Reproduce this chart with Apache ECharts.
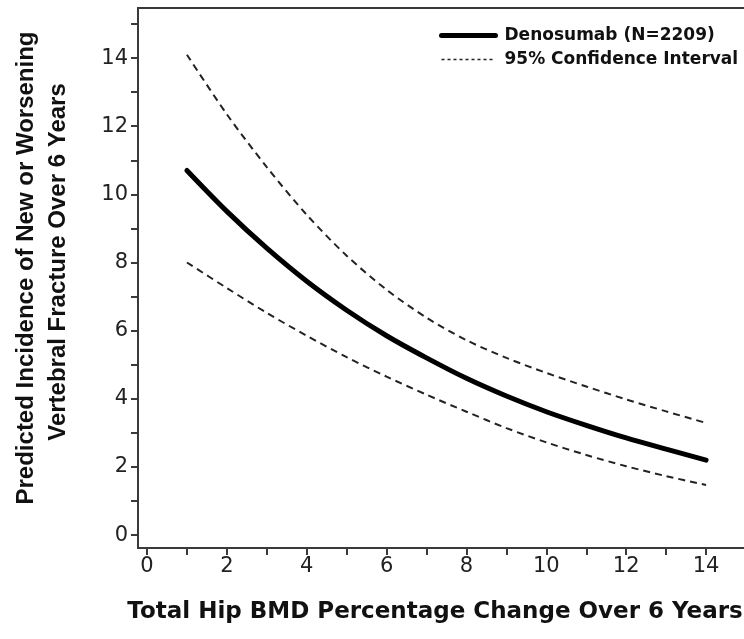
<!DOCTYPE html>
<html>
<head>
<meta charset="utf-8">
<script src="https://cdn.jsdelivr.net/npm/echarts@6/dist/echarts.min.js"></script>
<style>
  html, body { margin: 0; padding: 0; background: #fff; }
  #chart { width: 744px; height: 639px; }
</style>
</head>
<body>
<div id="chart"></div>
<script>
// hip BMD change (%) at which the model was evaluated
var bmdChange = [1, 2, 3, 4, 5, 6, 7, 8, 9, 10, 11, 12, 13, 14];
// predicted incidence (%) and its 95% CI
var incidence = [10.7, 9.5, 8.42, 7.45, 6.6, 5.85, 5.2, 4.6, 4.08, 3.62, 3.22, 2.85, 2.52, 2.2];
var upperCI = [14.1, 12.35, 10.8, 9.4, 8.2, 7.2, 6.38, 5.72, 5.2, 4.76, 4.36, 3.98, 3.63, 3.29];
var lowerCI = [8.0, 7.25, 6.52, 5.85, 5.22, 4.65, 4.12, 3.62, 3.14, 2.72, 2.35, 2.02, 1.73, 1.47];

var xLabels = [0, 2, 4, 6, 8, 10, 12, 14];
var xTicks = [0, 1, 2, 3, 4, 5, 6, 7, 8, 9, 10, 11, 12, 13, 14, 15];
var yLabels = [0, 2, 4, 6, 8, 10, 12, 14];
var yTicks = [0, 1, 2, 3, 4, 5, 6, 7, 8, 9, 10, 11, 12, 13, 14, 15];

var mainName = 'Denosumab (N=2209)';
var ciName = '95% Confidence Interval';

function pairs(ys) {
    return bmdChange.map(function (x, i) { return [x, ys[i]]; });
}

var axisColor = '#3a3a3a';
var tickFont = { fontFamily: 'DejaVu Sans', fontSize: 21, color: '#222' };
var titleFont = 'bold 24px "Liberation Sans", Arial, sans-serif';

var chart = echarts.init(document.getElementById('chart'));
chart.setOption({
    animation: false,
    backgroundColor: '#fff',
    grid: {
        left: 138, top: 8, right: -10, bottom: 91,
        outerBoundsMode: 'none',
        containLabel: false,
        show: true, borderColor: axisColor, borderWidth: 2
    },
    legend: {
        orient: 'vertical',
        left: 434, top: 22,
        itemWidth: 54, itemHeight: 16, itemGap: 7,
        itemStyle: { opacity: 0 },
        data: [
            { name: mainName, lineStyle: { width: 5, color: '#000' } },
            { name: ciName, lineStyle: { width: 1.5, color: '#222', type: [3, 3] } }
        ],
        textStyle: { fontFamily: 'DejaVu Sans', fontWeight: 'bold', fontSize: 17, color: '#111', padding: [0, 0, 0, 4] }
    },
    xAxis: {
        type: 'value',
        min: -0.225, max: 15.2,
        splitLine: { show: false },
        axisLine: { onZero: false, lineStyle: { color: axisColor, width: 2 } },
        axisTick: { customValues: xTicks, length: 7, lineStyle: { color: axisColor, width: 2 } },
        axisLabel: Object.assign({ customValues: xLabels, margin: 8 }, tickFont)
    },
    yAxis: {
        type: 'value',
        min: -0.38, max: 15.47,
        splitLine: { show: false },
        axisLine: { onZero: false, lineStyle: { color: axisColor, width: 2 } },
        axisTick: { customValues: yTicks, length: 7, lineStyle: { color: axisColor, width: 2 } },
        axisLabel: Object.assign({ customValues: yLabels, margin: 10 }, tickFont)
    },
    graphic: [
        {
            type: 'text', x: 26, y: 268, rotation: Math.PI / 2,
            style: {
                text: 'Predicted Incidence of New or Worsening',
                font: titleFont, fill: '#111', align: 'center', verticalAlign: 'middle'
            }
        },
        {
            type: 'text', x: 58, y: 262, rotation: Math.PI / 2,
            style: {
                text: 'Vertebral Fracture Over 6 Years',
                font: titleFont, fill: '#111', align: 'center', verticalAlign: 'middle'
            }
        },
        {
            type: 'text', x: 435, y: 612,
            style: {
                text: 'Total Hip BMD Percentage Change Over 6 Years',
                font: 'bold 23px "DejaVu Sans", sans-serif',
                fill: '#111', align: 'center', verticalAlign: 'middle'
            }
        }
    ],
    series: [
        {
            name: mainName, type: 'line', data: pairs(incidence),
            smooth: 0.3, symbol: 'none',
            lineStyle: { color: '#000', width: 5, cap: 'round' },
            itemStyle: { color: '#000' }
        },
        {
            name: ciName, type: 'line', data: pairs(upperCI),
            smooth: 0.3, symbol: 'none',
            lineStyle: { color: '#222', width: 2, type: [7, 5] },
            itemStyle: { color: '#222' }
        },
        {
            name: ciName, type: 'line', data: pairs(lowerCI),
            smooth: 0.3, symbol: 'none',
            lineStyle: { color: '#222', width: 2, type: [7, 5] },
            itemStyle: { color: '#222' }
        }
    ]
});
</script>
</body>
</html>
